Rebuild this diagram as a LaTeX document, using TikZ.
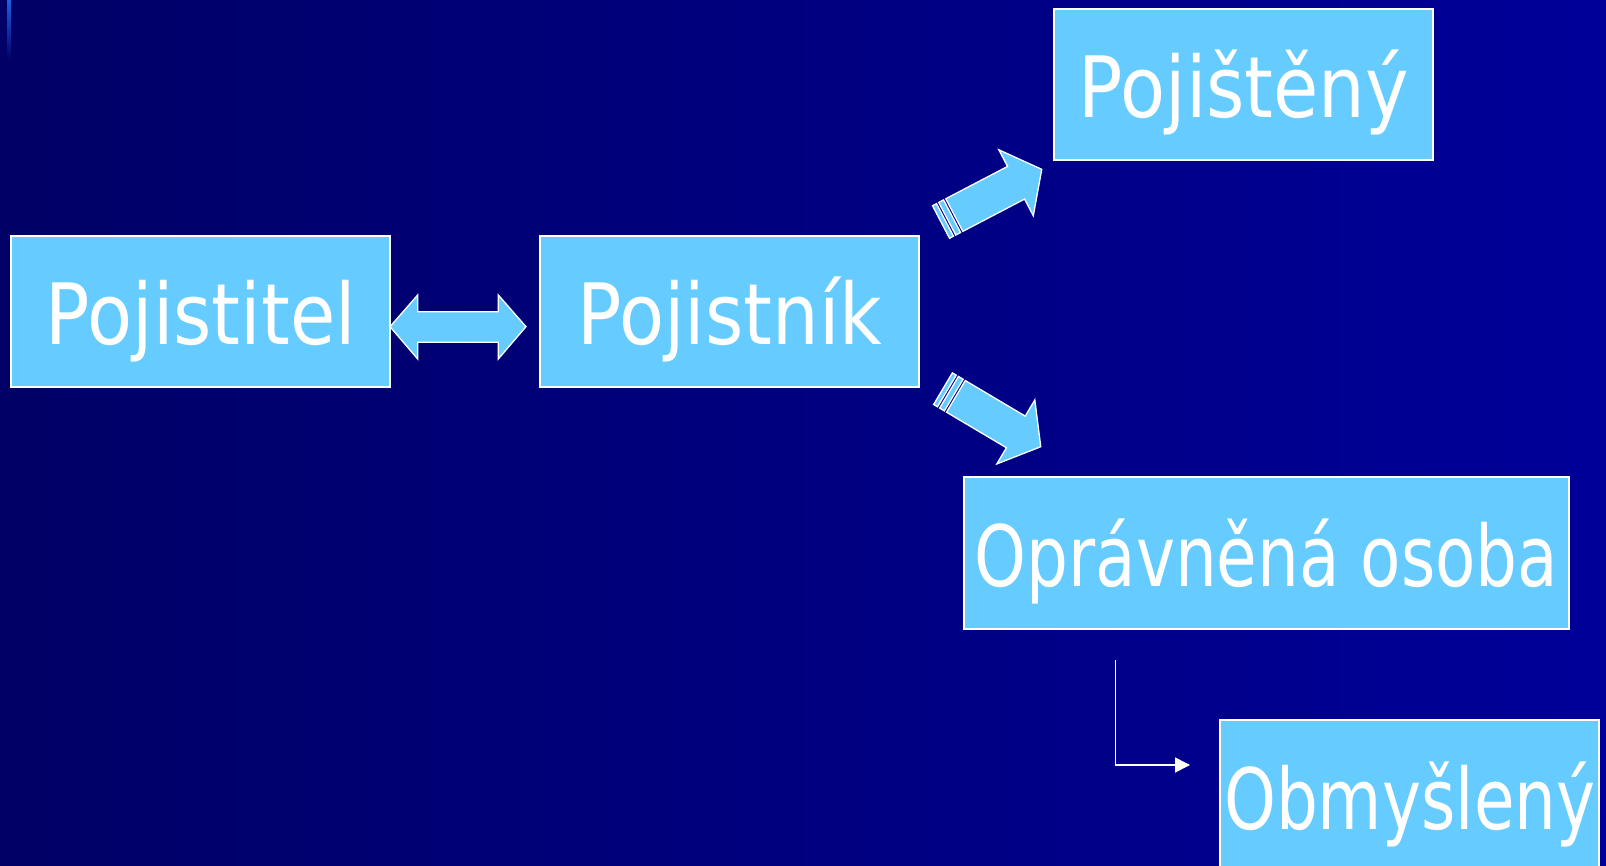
\documentclass[tikz,border=0pt]{standalone}
\usepackage{fontspec}
\newfontfamily\boxfont{DejaVu Sans}[FakeStretch=0.87]
\newfontfamily\boxfontnarrow{DejaVu Sans}[FakeStretch=0.78]
\usepackage{xcolor}
\usetikzlibrary{arrows.meta}
\definecolor{bgleft}{HTML}{000066}
\definecolor{bgright}{HTML}{000099}
\definecolor{boxblue}{HTML}{66CCFF}
\definecolor{edgeblue}{HTML}{2060E0}
\tikzset{
  box/.style={draw=white, line width=2pt, fill=boxblue, text=white, inner sep=0pt,
    minimum height=151.6pt, minimum width=378.9pt,
    font=\boxfont\fontsize{84.6pt}{100pt}\selectfont, text height=67pt, text depth=0pt},
  narrowbox/.style={box, font=\boxfontnarrow\fontsize{84.6pt}{100pt}\selectfont},
  blockarrow/.style={draw=white, line width=1.3pt, fill=boxblue, line join=miter},
  connector/.style={draw=white, line width=1.5pt, -{Triangle[length=15pt,width=15pt]}}
}
% striped block arrow, tail at (0,0), pointing along x
\newcommand{\stripedarrow}{%
  \filldraw[blockarrow] (0,-18.4) rectangle (4.5,18.4);
  \filldraw[blockarrow] (7,-18.4) rectangle (12.5,18.4);
  \filldraw[blockarrow] (15,-18.4) -- (84.7,-18.4) -- (84.7,-37.2) -- (113.7,0)
    -- (84.7,37.2) -- (84.7,18.4) -- (15,18.4) -- cycle;
}

\begin{document}
\begin{tikzpicture}[x=1pt,y=-1pt]
  \useasboundingbox (0,0) rectangle (1606,866);
  \shade[left color=bgleft, right color=bgright] (0,0) rectangle (1606,866);
  \shade[top color=edgeblue, bottom color=bgleft] (7,0) rectangle (11,60);

  \node[box] (tel) at (200.7,311.4) {Pojistitel};
  \node[box] (nik) at (729.7,311.4) {Pojistník};
  \node[box] (ten) at (1243.9,84.5) {Pojištěný};
  \node[narrowbox, minimum width=605.3pt] (opr) at (1266.4,553.1) {Oprávněná osoba};
  \node[narrowbox] (obm) at (1409.8,795.8) {Obmyšlený};

  % double arrow between Pojistitel and Pojistnik
  \filldraw[blockarrow] (390,326.7) -- (417.7,295) -- (417.7,311.7) -- (498.3,311.7)
    -- (498.3,295) -- (526,326.7) -- (498.3,359) -- (498.3,342.3) -- (417.7,342.3)
    -- (417.7,359) -- cycle;

  \begin{scope}[shift={(941,222)}, rotate=27.6]
    \stripedarrow
  \end{scope}
  \begin{scope}[shift={(943,388.7)}, rotate=-30.7]
    \stripedarrow
  \end{scope}

  \coordinate (bendtop) at (1115.3,660);
  \coordinate (obmtip) at (1190,765);
  \draw[connector] (bendtop) |- (obmtip);
\end{tikzpicture}
\end{document}
